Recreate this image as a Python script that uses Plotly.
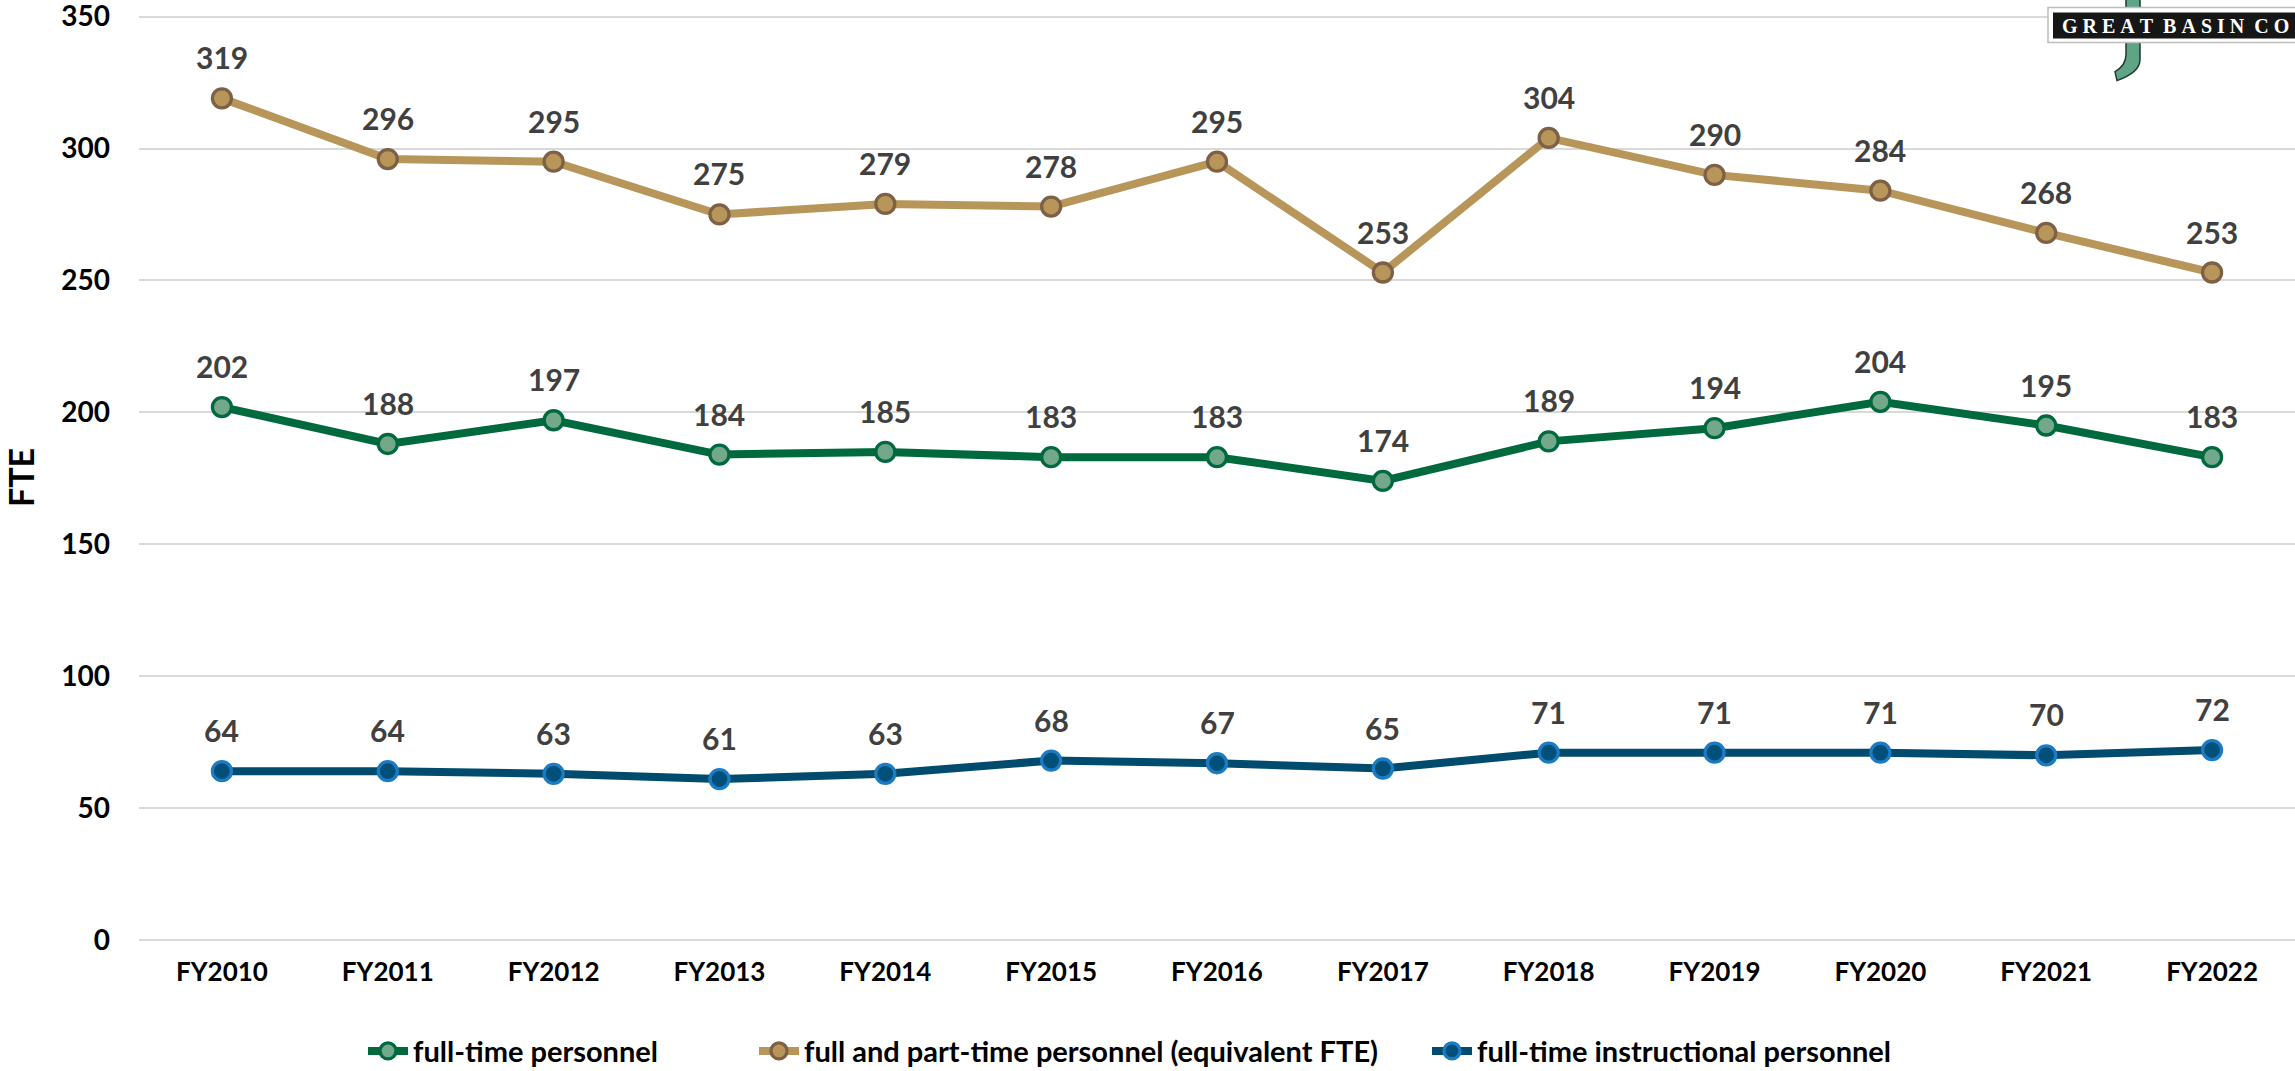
import plotly.graph_objects as go

years = ["FY2010", "FY2011", "FY2012", "FY2013", "FY2014", "FY2015", "FY2016",
         "FY2017", "FY2018", "FY2019", "FY2020", "FY2021", "FY2022"]
full_time = [202, 188, 197, 184, 185, 183, 183, 174, 189, 194, 204, 195, 183]
full_part = [319, 296, 295, 275, 279, 278, 295, 253, 304, 290, 284, 268, 253]
instructional = [64, 64, 63, 61, 63, 68, 67, 65, 71, 71, 71, 70, 72]
y_ticks = [0, 50, 100, 150, 200, 250, 300, 350]

W, H = 2295, 1071
Y_TOP = 350.6          # a hair above 350 so the top gridline is not clipped
PX_PER_UNIT = (940 - 17) / 350.0
L = 139
T = 17 - (Y_TOP - 350) * PX_PER_UNIT
B = H - 940
R = 0
FONT = "Lato"

series = [
    ("full-time personnel", full_time, "#00693E", "#74A88A", "#00693E", 411),
    ("full and part-time personnel (equivalent FTE)", full_part, "#B8965A", "#B8965A", "#7E6046", 802),
    ("full-time instructional personnel", instructional, "#004B6E", "#00507A", "#1B7BC4", 1475),
]

pw = W - L - R
ph = H - T - B
def px(x):  # page pixel -> paper
    return (x - L) / pw
def py(y):
    return (H - B - y) / ph

fig = go.Figure()
annotations = []
legends = {}
for i, (name, vals, lc, mfill, mline, text_x) in enumerate(series):
    lg = "legend" if i == 0 else f"legend{i + 1}"
    fig.add_trace(go.Scatter(
        x=years, y=vals, name=name, mode="lines+markers", legend=lg,
        line=dict(color=lc, width=8),
        marker=dict(size=19, color=mfill, line=dict(color=mline, width=3.3)),
        hoverinfo="x+y",
    ))
    legends[lg] = dict(orientation="h", x=px(text_x - 48), xanchor="left",
                       y=py(1051), yanchor="middle",
                       font=dict(family=FONT, size=29, color="#000000", weight="bold"),
                       itemwidth=40, bgcolor="rgba(0,0,0,0)")
    for xv, yv in zip(years, vals):
        annotations.append(dict(
            x=xv, y=yv, text=str(yv), showarrow=False, yshift=41,
            font=dict(family=FONT, size=30, color="#404040", weight="bold"),
        ))

shapes = [
    # green J stroke of the logo
    dict(type="path", xref="paper", yref="paper", layer="above",
         path=(f"M {px(2126)} {py(-2)} L {px(2140)} {py(-2)} L {px(2140)} {py(60)} "
               f"Q {px(2140)} {py(73)} {px(2117)} {py(81)} L {px(2115)} {py(72)} "
               f"Q {px(2126)} {py(66)} {px(2126)} {py(55)} Z"),
         fillcolor="#5FA585", line=dict(color="#1E3A2C", width=1.5)),
    dict(type="rect", xref="paper", yref="paper", layer="above",
         x0=px(2048), x1=px(2310), y0=py(43), y1=py(8),
         fillcolor="#FFFFFF", line=dict(color="#BDBDBD", width=1.5)),
    dict(type="rect", xref="paper", yref="paper", layer="above",
         x0=px(2053), x1=px(2310), y0=py(39), y1=py(13),
         fillcolor="#161616", line=dict(width=0)),
]
NB = "\u00a0"
logo_text = NB.join("GREAT") + NB * 2 + NB.join("BASIN") + NB * 2 + NB.join("CO")
annotations.append(dict(
    xref="paper", yref="paper", x=px(2291), y=py(26.5), xanchor="right", yanchor="middle",
    text=logo_text, showarrow=False,
    font=dict(family="Liberation Serif", size=20, color="#FFFFFF", weight="bold"),
))

fig.update_layout(
    width=W, height=H,
    margin=dict(l=L, r=R, t=T, b=B, autoexpand=False),
    paper_bgcolor="white", plot_bgcolor="white",
    font=dict(family=FONT, color="#000000"),
    showlegend=True,
    xaxis=dict(type="category", showgrid=False, showline=False, zeroline=False,
               ticks="", ticklabelstandoff=14,
               tickfont=dict(family=FONT, size=26, color="#000000", weight="bold"),
               range=[-0.5, len(years) - 0.5]),
    yaxis=dict(range=[0, Y_TOP], tickvals=y_ticks, showgrid=True, gridcolor="#D9D9D9",
               gridwidth=1.5, zeroline=True, zerolinecolor="#D9D9D9", zerolinewidth=1.5,
               showline=False, ticks="", ticklabelstandoff=28, ticklabeloverflow="allow",
               tickfont=dict(family=FONT, size=28, color="#000000", weight="bold"),
               title=dict(text="FTE", standoff=16,
                          font=dict(family=FONT, size=34, color="#000000", weight="bold"))),
    shapes=shapes,
    annotations=annotations,
    **legends,
)

fig.write_html("out.html", config={"displayModeBar": False},
               post_script="document.body.style.margin='0';document.body.style.overflow='hidden';")
